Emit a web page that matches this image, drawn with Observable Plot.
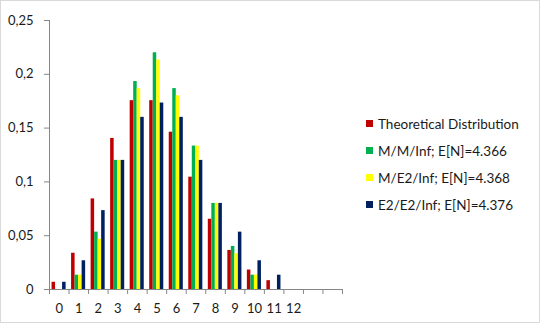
<!DOCTYPE html>
<html>
<head>
<meta charset="utf-8">
<script src="https://cdn.jsdelivr.net/npm/d3@7"></script>
<script src="https://cdn.jsdelivr.net/npm/@observablehq/plot@0.6"></script>
<style>
  html, body { margin: 0; padding: 0; background: #fff; }
  #chart { position: relative; width: 540px; height: 323px; font-family: Lato, "Open Sans", sans-serif; }
  #frame { position: absolute; left: 0; top: 0; width: 538px; height: 321px; border: 1px solid #d9d9d9; pointer-events: none; }
  #legend { position: absolute; left: 366px; top: 110px; font-size: 13.5px; color: #1a1a1a; }
  #legend .item { display: flex; align-items: center; height: 27px; white-space: nowrap; }
  #legend .sw { width: 7px; height: 7px; margin-right: 5px; }
</style>
</head>
<body>
<div id="chart"><div id="frame"></div><div id="legend"></div></div>
<script>
// Number of customers in system: categories and their axis labels
const categories = [0, 1, 2, 3, 4, 5, 6, 7, 8, 9, 10, 11, 12, 13, 14];
const xLabels = ["0", "1", "2", "3", "4", "5", "6", "7", "8", "9", "10", "11", "12", "", ""];
const yTicks = [0, 0.05, 0.1, 0.15, 0.2, 0.25];

const seriesNames = [
  "Theoretical Distribution",
  "M/M/Inf; E[N]=4.366",
  "M/E2/Inf; E[N]=4.368",
  "E2/E2/Inf; E[N]=4.376"
];
const seriesColors = ["#C00000", "#00B050", "#FFFF00", "#002060"];

// Probabilities per category (index = number of customers)
const theoretical = [0.0067, 0.0337, 0.0842, 0.1404, 0.1755, 0.1755, 0.1462, 0.1044, 0.0653, 0.0363, 0.0181, 0.0082];
const mmInf       = [0, 0.0133, 0.0533, 0.12, 0.1933, 0.22, 0.1867, 0.1333, 0.08, 0.04, 0.0133, 0];
const me2Inf      = [0, 0.0133, 0.0467, 0.12, 0.1867, 0.2133, 0.18, 0.1333, 0.08, 0.0333, 0.0133, 0];
const e2e2Inf     = [0.0067, 0.0267, 0.0733, 0.12, 0.16, 0.1733, 0.16, 0.12, 0.08, 0.0533, 0.0267, 0.0133];

const rows = [];
[theoretical, mmInf, me2Inf, e2e2Inf].forEach((vals, s) =>
  vals.forEach((v, k) => rows.push({k, s, name: seriesNames[s], value: v}))
);

// clustered bars: four bars side by side inside each unit-wide category slot
const groupStart = 0.13, barWidth = 0.18;
const grid = "#868686";
const fmt = d => d === 0 ? "0" : String(d).replace(".", ",");

const plot = Plot.plot({
  width: 540,
  height: 323,
  marginLeft: 49,
  marginRight: 198,
  marginTop: 20,
  marginBottom: 34,
  style: {fontFamily: "Lato, 'Open Sans', sans-serif", fontSize: "13px", color: "#1a1a1a", background: "transparent"},
  x: {type: "linear", domain: [0, categories.length], axis: null},
  y: {domain: [0, 0.25], axis: null},
  color: {domain: seriesNames, range: seriesColors},
  marks: [
    Plot.rectY(rows, {
      x1: d => d.k + groupStart + d.s * barWidth,
      x2: d => d.k + groupStart + (d.s + 1) * barWidth,
      y1: 0,
      y2: "value",
      fill: "name"
    }),
    Plot.ruleX([0], {stroke: grid}),
    Plot.ruleY([0], {stroke: grid}),
    Plot.axisY({ticks: yTicks, tickSize: 5, stroke: grid, tickFormat: () => "", label: null}),
    Plot.axisX({ticks: [...categories, categories.length], tickSize: 5, stroke: grid, tickFormat: () => "", label: null}),
    Plot.text(yTicks, {x: 0, y: d => d, text: fmt, textAnchor: "end", dx: -16, fill: "#1a1a1a"}),
    Plot.text(categories, {x: k => k + 0.5, y: 0, text: k => xLabels[k], dy: 19, lineAnchor: "middle", fill: "#1a1a1a"})
  ]
});
document.getElementById("chart").prepend(plot);

const legend = d3.select("#legend");
seriesNames.forEach((name, i) => {
  const item = legend.append("div").attr("class", "item");
  item.append("div").attr("class", "sw").style("background", seriesColors[i]);
  item.append("span").text(name);
});
</script>
</body>
</html>
